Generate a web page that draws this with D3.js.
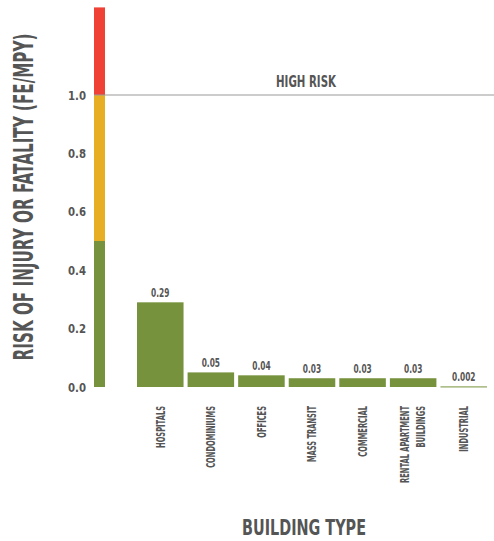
<!DOCTYPE html>
<html>
<head>
<meta charset="utf-8">
<script src="https://cdn.jsdelivr.net/npm/d3@7"></script>
<style>
  body { margin: 0; background: #fff; }
  text { font-family: "DejaVu Sans", sans-serif; font-weight: bold; fill: #555; }
</style>
</head>
<body>
<div id="chart"></div>
<script>
var categories = ['HOSPITALS', 'CONDOMINIUMS', 'OFFICES', 'MASS TRANSIT', 'COMMERCIAL', 'RENTAL APARTMENT|BUILDINGS', 'INDUSTRIAL'];
var values = [0.29, 0.05, 0.04, 0.03, 0.03, 0.03, 0.002];
var yTicks = [0, 0.2, 0.4, 0.6, 0.8, 1.0];
var riskBands = [
	{ from: 0, to: 0.5, color: '#76923c' },
	{ from: 0.5, to: 1.0, color: '#e8ae23' },
	{ from: 1.0, to: 1.3, color: '#ef4136' }
];
var highRisk = 1.0;

// squeeze a wide font down to look like a condensed display face
function condense(sel, k) {
	sel.each(function() {
		var w = this.getComputedTextLength();
		d3.select(this).attr('textLength', w * k).attr('lengthAdjust', 'spacingAndGlyphs');
	});
}

// same idea, but with a transform so the box shrinks too
function squeezeTo(text, x, y, rot, width) {
	var w = text.node().getComputedTextLength();
	text.attr('transform', 'translate(' + x + ',' + y + ') rotate(' + rot + ') scale(' + (width / w) + ',1)');
}

var svg = d3.select('#chart').append('svg').attr('width', 494).attr('height', 541);

var yScale = d3.scaleLinear()
	.domain([0, 1])
	.range([387, 95]);

var xScale = d3.scaleBand()
	.domain(categories)
	.range([136, 488])
	.paddingInner(0.08)
	.paddingOuter(0.02);

// risk colour strip
svg.selectAll('.band')
	.data(riskBands)
	.enter().append('rect')
	.attr('class', 'band')
	.attr('x', 94)
	.attr('width', 11)
	.attr('y', function(d) { return yScale(d.to); })
	.attr('height', function(d) { return yScale(d.from) - yScale(d.to); })
	.attr('fill', function(d) { return d.color; });

// high risk line
svg.append('line')
	.attr('x1', 94).attr('x2', 494)
	.attr('y1', yScale(highRisk)).attr('y2', yScale(highRisk))
	.attr('stroke', '#999').attr('stroke-width', 1.2);

var hr = svg.append('text')
	.attr('text-anchor', 'middle')
	.attr('font-size', 16)
	.text('HIGH RISK');
squeezeTo(hr, 306, yScale(highRisk) - 8, 0, 60);

// y axis
var yAxis = d3.axisLeft(yScale).tickValues(yTicks).tickFormat(d3.format('.1f')).tickSize(0).tickPadding(0);
var yAxisG = svg.append('g')
	.attr('transform', 'translate(86,0)')
	.call(yAxis);
yAxisG.select('.domain').remove();
yAxisG.selectAll('text')
	.attr('font-size', 13)
	.attr('font-family', null)
	.attr('fill', '#555')
	.attr('textLength', 18).attr('lengthAdjust', 'spacingAndGlyphs');

// bars
svg.selectAll('.bar')
	.data(values)
	.enter().append('rect')
	.attr('class', 'bar')
	.attr('x', function(d, i) { return xScale(categories[i]); })
	.attr('width', xScale.bandwidth())
	.attr('y', function(d) { return yScale(d); })
	.attr('height', function(d) { return Math.max(1, yScale(0) - yScale(d)); })
	.attr('fill', '#76923c');

svg.selectAll('.val')
	.data(values)
	.enter().append('text')
	.attr('class', 'val')
	.attr('x', function(d, i) { return xScale(categories[i]) + xScale.bandwidth() / 2; })
	.attr('y', function(d) { return yScale(d) - 5; })
	.attr('text-anchor', 'middle')
	.attr('font-size', 12)
	.text(function(d) { return String(d); })
	.call(condense, 0.62);

// category labels, rotated
var catG = svg.selectAll('.cat')
	.data(categories)
	.enter().append('g')
	.attr('class', 'cat')
	.attr('transform', function(d) { return 'translate(' + (xScale(d) + xScale.bandwidth() / 2) + ',406) rotate(-90)'; });

catG.each(function(d) {
	var lines = d.split('|');
	var g = d3.select(this);
	lines.forEach(function(l, j) {
		g.append('text')
			.attr('x', 0)
			.attr('y', (j - (lines.length - 1) / 2) * 16)
			.attr('dy', '0.36em')
			.attr('text-anchor', 'end')
			.attr('font-size', 12)
			.text(l)
			.call(condense, 0.56);
	});
});

// axis titles
var yTitle = svg.append('text')
	.attr('text-anchor', 'middle')
	.attr('font-size', 26)
	.text('RISK OF INJURY OR FATALITY (FE/MPY)');
squeezeTo(yTitle, 33, 197, -90, 327);

var xTitle = svg.append('text')
	.attr('text-anchor', 'middle')
	.attr('font-size', 22)
	.text('BUILDING TYPE');
squeezeTo(xTitle, 304, 535, 0, 124);
</script>
</body>
</html>
